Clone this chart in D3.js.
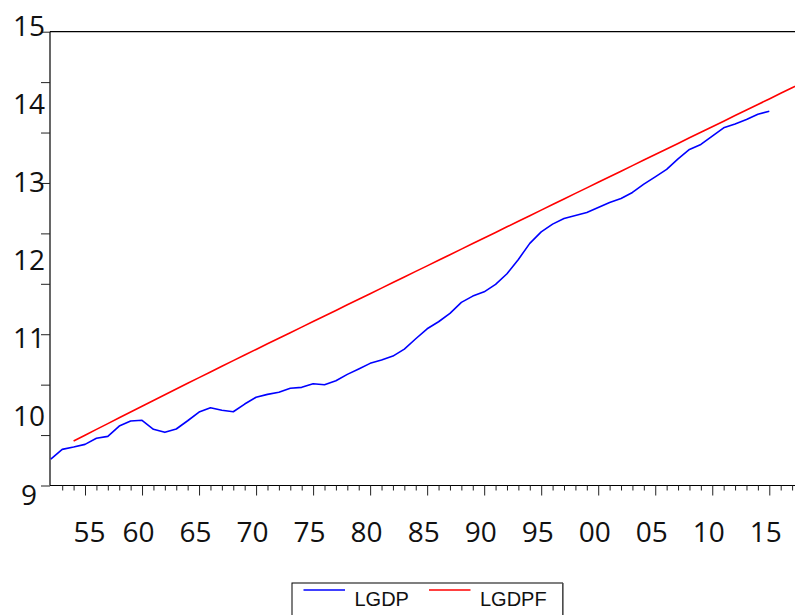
<!DOCTYPE html>
<html>
<head>
<meta charset="utf-8">
<script src="https://cdn.jsdelivr.net/npm/d3@7"></script>
<style>
  html, body { margin: 0; padding: 0; background: #fff; overflow: hidden; }
  svg { display: block; }
</style>
</head>
<body>
<svg id="chart" width="795" height="615"></svg>
<script>
// Log GDP and its trend path, annual observations
const yearsLGDP = d3.range(1952, 2016);
const lgdp = [
  9.350, 9.478, 9.509, 9.544, 9.624, 9.650, 9.786, 9.852, 9.862, 9.743,
  9.703, 9.747, 9.856, 9.971, 10.028, 9.994, 9.975, 10.077, 10.166, 10.205,
  10.232, 10.285, 10.298, 10.345, 10.332, 10.385, 10.469, 10.540, 10.615, 10.659,
  10.711, 10.804, 10.940, 11.072, 11.165, 11.276, 11.421, 11.504, 11.561, 11.659,
  11.800, 11.989, 12.201, 12.354, 12.456, 12.531, 12.571, 12.610, 12.676, 12.742,
  12.795, 12.875, 12.984, 13.081, 13.179, 13.319, 13.443, 13.509, 13.619, 13.729,
  13.781, 13.839, 13.909, 13.949
];

const yearsLGDPF = d3.range(1954, 2019);
const lgdpf = [
  9.588, 9.665, 9.742, 9.818, 9.895, 9.971, 10.047, 10.123, 10.199, 10.275,
  10.351, 10.426, 10.501, 10.576, 10.651, 10.725, 10.799, 10.873, 10.947, 11.020,
  11.094, 11.168, 11.241, 11.315, 11.389, 11.462, 11.536, 11.610, 11.683, 11.757,
  11.831, 11.904, 11.978, 12.052, 12.125, 12.199, 12.273, 12.346, 12.420, 12.494,
  12.567, 12.641, 12.715, 12.788, 12.862, 12.935, 13.009, 13.082, 13.156, 13.229,
  13.303, 13.376, 13.450, 13.523, 13.597, 13.670, 13.744, 13.817, 13.891, 13.964,
  14.038, 14.111, 14.185, 14.258, 14.332
];

const yTickLabels = [9, 10, 11, 12, 13, 14, 15];
const xTickYears = [1955, 1960, 1965, 1970, 1975, 1980, 1985, 1990, 1995, 2000, 2005, 2010, 2015];
const seriesNames = ["LGDP", "LGDPF"];
const seriesColors = ["#0000ff", "#ff0000"];

const svg = d3.select("#chart");
const labelFont = "'Open Sans', 'Liberation Sans', sans-serif";

const x = d3.scaleLinear().domain([1952, 2018]).range([50.8, 803.5]);
const y = d3.scaleLinear().domain([9, 15]).range([485.5, 31.7]);
// tick labels sit on a slightly wider spacing than the tick marks
const yLabel = d3.scaleLinear().domain([9, 15]).range([494, 25]);

const plotLeft = 50, plotRight = x(2018), plotTop = y(15), plotBottom = y(9);

// frame
svg.append("line").attr("x1", plotLeft).attr("x2", plotRight).attr("y1", plotTop).attr("y2", plotTop)
  .attr("stroke", "#000").attr("stroke-width", 1.3);
svg.append("line").attr("x1", plotRight).attr("x2", plotRight).attr("y1", plotTop).attr("y2", plotBottom)
  .attr("stroke", "#000");

// y axis: tick marks every two-thirds of a unit
const yTicks = d3.range(0, 10).map(i => 9 + i * 2 / 3);
const yAxis = d3.axisLeft(y).tickValues(yTicks).tickSize(9).tickFormat("");
const gy = svg.append("g").attr("transform", `translate(${plotLeft},0)`).call(yAxis);
gy.select(".domain").attr("stroke", "#000").attr("stroke-width", 1.2)
  .attr("d", `M0,${plotTop}V${plotBottom}`);
gy.selectAll(".tick line").attr("stroke", "#222");

// y labels
const yLab = d3.axisLeft(yLabel).tickValues(yTickLabels).tickSize(0).tickFormat(d3.format("d"));
const gyl = svg.append("g").attr("transform", "translate(29,0)").call(yLab);
gyl.select(".domain").remove();
gyl.selectAll(".tick text")
  .attr("x", 0).attr("dy", "0.36em")
  .attr("text-anchor", "middle")
  .attr("font-family", labelFont).attr("font-size", 28).attr("fill", "#111");

// x axis: minor ticks each year, major ticks every five
const minorYears = d3.range(1953, 2018).filter(v => v % 5 !== 0);
const gxMinor = svg.append("g").attr("transform", `translate(0,${plotBottom})`)
  .call(d3.axisBottom(x).tickValues(minorYears).tickSize(5).tickFormat(""));
gxMinor.select(".domain").attr("stroke", "#000").attr("stroke-width", 1.2)
  .attr("d", `M${plotLeft},0H${plotRight}`);
gxMinor.selectAll(".tick line").attr("stroke", "#222");

const gxMajor = svg.append("g").attr("transform", `translate(0,${plotBottom})`)
  .call(d3.axisBottom(x).tickValues(xTickYears).tickSize(10)
    .tickFormat(d => String(d % 100).padStart(2, "0")));
gxMajor.select(".domain").remove();
gxMajor.selectAll(".tick line").attr("stroke", "#222");
gxMajor.selectAll(".tick text")
  .attr("y", 0).attr("dy", 0)
  .attr("transform", (d, i) => `translate(${i === 0 ? 4 : -4},56)`)
  .attr("font-family", labelFont).attr("font-size", 28).attr("fill", "#111");

// series lines
const line = d3.line().x(d => x(d[0])).y(d => y(d[1]));
const seriesData = [
  d3.zip(yearsLGDP, lgdp),
  d3.zip(yearsLGDPF, lgdpf)
];
svg.append("g").selectAll("path").data(seriesData).join("path")
  .attr("d", line)
  .attr("fill", "none")
  .attr("stroke", (d, i) => seriesColors[i])
  .attr("stroke-width", 1.6)
  .attr("stroke-linejoin", "round");

// legend
const lg = svg.append("g");
lg.append("rect").attr("x", 292).attr("y", 583).attr("width", 270.5).attr("height", 50)
  .attr("fill", "#fff").attr("stroke", "#000").attr("stroke-width", 1);
lg.append("line").attr("x1", 563).attr("x2", 563).attr("y1", 583).attr("y2", 615)
  .attr("stroke", "#666").attr("stroke-width", 1.5);
const entries = lg.selectAll("g.entry").data(seriesNames).join("g")
  .attr("class", "entry")
  .attr("transform", (d, i) => `translate(${i === 0 ? 303.5 : 429},0)`);
entries.append("line").attr("x1", 0).attr("x2", 41.5).attr("y1", 590).attr("y2", 590)
  .attr("stroke", (d, i) => seriesColors[i]).attr("stroke-width", 1.5);
entries.append("text").attr("x", 51).attr("y", 605.5)
  .attr("font-family", "'Liberation Sans', Arial, sans-serif").attr("font-size", 20)
  .attr("fill", "#111").text(d => d);
</script>
</body>
</html>
